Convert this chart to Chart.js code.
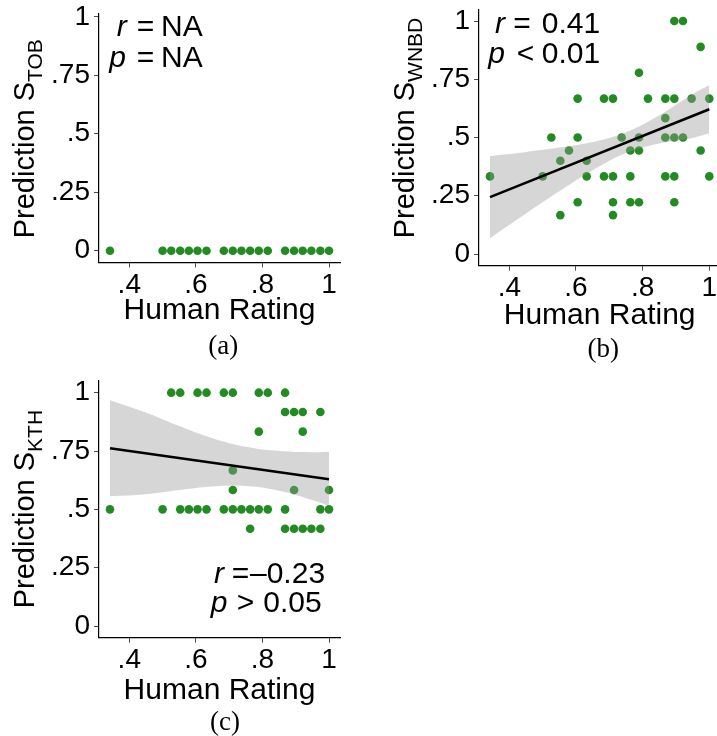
<!DOCTYPE html>
<html><head><meta charset="utf-8">
<script src="https://cdn.jsdelivr.net/npm/chart.js@4.4.1/dist/chart.umd.min.js"></script>
<style>
html,body{margin:0;padding:0;background:#fff;}
#wrap{position:relative;width:717px;height:736px;overflow:hidden;background:#fff;}
canvas{position:absolute;}
</style></head><body>
<div id="wrap">
<canvas id="cA"></canvas><canvas id="cB"></canvas><canvas id="cC"></canvas>
</div>
<script>
// ---------- data ----------
const xTickValues = [0.4, 0.6, 0.8, 1.0];
const xTickLabels = ['.4', '.6', '.8', '1'];
const yTickValues = [0, 0.25, 0.5, 0.75, 1];
const yTickLabels = ['0', '.25', '.5', '.75', '1'];
const xAxisTitle = 'Human Rating';
const yAxisTitle = 'Prediction ';

// (a) S_TOB
const tobX = [0.342, 0.500, 0.526, 0.553, 0.579, 0.605, 0.632, 0.684, 0.711, 0.737, 0.763, 0.789, 0.816, 0.868, 0.895, 0.921, 0.947, 0.974, 1.000];
const tobY = [0, 0, 0, 0, 0, 0, 0, 0, 0, 0, 0, 0, 0, 0, 0, 0, 0, 0, 0];

// (b) S_WNBD
const wnbdX = [0.895, 0.921,
  0.974,
  0.789,
  0.605, 0.684, 0.711, 0.816, 0.868, 0.895, 0.947, 1.000,
  0.868,
  0.526, 0.605, 0.737, 0.789, 0.868, 0.895, 0.921,
  0.579, 0.763, 0.789, 0.974,
  0.553, 0.632,
  0.342, 0.500, 0.632, 0.684, 0.711, 0.763, 0.868, 0.895, 1.000,
  0.605, 0.711, 0.763, 0.789, 0.895,
  0.553, 0.711];
const wnbdY = [1, 1,
  0.889,
  0.778,
  0.667, 0.667, 0.667, 0.667, 0.667, 0.667, 0.667, 0.667,
  0.583,
  0.5, 0.5, 0.5, 0.5, 0.5, 0.5, 0.5,
  0.444, 0.444, 0.444, 0.444,
  0.4, 0.4,
  0.333, 0.333, 0.333, 0.333, 0.333, 0.333, 0.333, 0.333, 0.333,
  0.222, 0.222, 0.222, 0.222, 0.222,
  0.167, 0.167];
const wnbdFitX = [0.342, 1.0];
const wnbdFitY = [0.244, 0.621];
const wnbdBandX = [0.342, 0.45, 0.55, 0.65, 0.75, 0.85, 0.95, 1.0];
const wnbdBandLow = [0.068, 0.174, 0.269, 0.359, 0.433, 0.474, 0.498, 0.518];
const wnbdBandHigh = [0.420, 0.438, 0.457, 0.481, 0.523, 0.596, 0.686, 0.724];

// (c) S_KTH
const kthX = [0.526, 0.553, 0.605, 0.632, 0.684, 0.711, 0.789, 0.816, 0.868,
  0.868, 0.895, 0.921, 0.974,
  0.789, 0.921,
  0.711,
  0.711, 0.895, 1.000,
  0.342, 0.500, 0.553, 0.579, 0.605, 0.632, 0.684, 0.711, 0.737, 0.763, 0.789, 0.816, 0.868, 0.974, 1.000,
  0.763, 0.868, 0.895, 0.921, 0.947, 0.974];
const kthY = [1, 1, 1, 1, 1, 1, 1, 1, 1,
  0.917, 0.917, 0.917, 0.917,
  0.833, 0.833,
  0.667,
  0.583, 0.583, 0.583,
  0.5, 0.5, 0.5, 0.5, 0.5, 0.5, 0.5, 0.5, 0.5, 0.5, 0.5, 0.5, 0.5, 0.5, 0.5,
  0.417, 0.417, 0.417, 0.417, 0.417, 0.417];
const kthFitX = [0.342, 1.0];
const kthFitY = [0.762, 0.629];
const kthBandX = [0.342, 0.45, 0.55, 0.65, 0.75, 0.85, 0.95, 1.0];
const kthBandLow = [0.556, 0.565, 0.583, 0.598, 0.600, 0.580, 0.540, 0.515];
const kthBandHigh = [0.968, 0.915, 0.857, 0.805, 0.768, 0.750, 0.745, 0.747];

const subLabels = ['TOB', 'WNBD', 'KTH'];
const statR = ['NA', '0.41', '\u20130.23'];
const statPop = ['=', '<', '>'];
const statP = ['NA', '0.01', '0.05'];
const captions = ['(a)', '(b)', '(c)'];

// ---------- drawing ----------
const SANS = "'Liberation Sans', Arial, sans-serif";
const SERIF = "'Liberation Serif', 'DejaVu Serif', serif";
Chart.defaults.font.family = SANS;
Chart.defaults.color = '#000';

const pts = (xs, ys) => xs.map((x, i) => ({x: x, y: ys[i]}));

const panels = [
  {id: 'cA', canvas: {left: 0, top: -20, w: 360, h: 390}, area: {left: 99, top: 14, right: 340, bottom: 262.4}, yMax: 1.012,
   xs: tobX, ys: tobY, fit: null,
   titleBase: 33.5, titleStart: 238.3, xTitleMid: 311,
   stats: {r: [116.7, 136.7, 161, 36], p: [109.3, 136.7, 161, 66.7]},
   cap: [223.3, 347]},
  {id: 'cB', canvas: {left: 380, top: -20, w: 360, h: 390}, area: {left: 479, top: 9.35, right: 720.3, bottom: 265.65}, yMax: 1.05,
   xs: wnbdX, ys: wnbdY, fit: [wnbdFitX, wnbdFitY, wnbdBandX, wnbdBandLow, wnbdBandHigh],
   titleBase: 413.5, titleStart: 238.3, xTitleMid: 316,
   stats: {r: [495, 513.3, 541.7, 33.3], p: [488.3, 516.7, 541.7, 63.3]},
   cap: [603.3, 350]},
  {id: 'cC', canvas: {left: 0, top: 350, w: 360, h: 386}, area: {left: 99, top: 381, right: 340, bottom: 637.7}, yMax: 1.05,
   xs: kthX, ys: kthY, fit: [kthFitX, kthFitY, kthBandX, kthBandLow, kthBandHigh],
   titleBase: 33.5, titleStart: 608.3, xTitleMid: 691,
   stats: {r: [214, 231.7, 250, 583.3], p: [210.7, 236.7, 263.3, 611.7]},
   cap: [225, 723]}
];

panels.forEach((P, k) => {
  const cv = document.getElementById(P.id);
  cv.width = P.canvas.w; cv.height = P.canvas.h;
  cv.style.left = P.canvas.left + 'px'; cv.style.top = P.canvas.top + 'px';
  cv.style.width = P.canvas.w + 'px'; cv.style.height = P.canvas.h + 'px';
  const cl = P.canvas.left, ct = P.canvas.top;
  const datasets = [{
    type: 'scatter', data: pts(P.xs, P.ys), pointRadius: 4.3, pointHoverRadius: 4.3,
    backgroundColor: '#228B22', borderWidth: 0, order: 3
  }];
  if (P.fit) {
    const [fx, fy, bx, bl, bh] = P.fit;
    datasets.push({type: 'line', data: pts(bx, bl), pointRadius: 0, borderWidth: 0, fill: false,
      tension: 0.4, order: 2, borderColor: 'rgba(0,0,0,0)'});
    datasets.push({type: 'line', data: pts(bx, bh), pointRadius: 0, borderWidth: 0, fill: '-1',
      backgroundColor: 'rgba(153,153,153,0.4)', tension: 0.4, order: 2, borderColor: 'rgba(0,0,0,0)'});
    datasets.push({type: 'line', data: pts(fx, fy), pointRadius: 0, borderWidth: 2.6, borderColor: '#000', fill: false, order: 1});
  }
  const xTitleLH = 30 * 1.2;
  const xPadBottom = (ct + P.canvas.h) - P.xTitleMid - xTitleLH / 2;
  const annot = {
    id: 'annot' + k,
    afterDraw(chart) {
      const ctx = chart.ctx;
      ctx.save();
      ctx.fillStyle = '#000';
      // y title with subscript
      ctx.save();
      ctx.translate(P.titleBase - cl, P.titleStart - ct);
      ctx.rotate(-Math.PI / 2);
      ctx.textAlign = 'left'; ctx.textBaseline = 'alphabetic';
      ctx.font = '29px ' + SANS;
      const full = yAxisTitle + 'S';
      ctx.fillText(full, 0, 0);
      const w = ctx.measureText(full).width;
      ctx.font = '21px ' + SANS;
      ctx.fillText(subLabels[k], w, 8.4);
      ctx.restore();
      // stats
      ctx.textAlign = 'left'; ctx.textBaseline = 'alphabetic';
      const s = P.stats;
      ctx.font = 'italic 30px ' + SANS;
      ctx.fillText('r', s.r[0] - cl, s.r[3] - ct);
      ctx.fillText('p', s.p[0] - cl, s.p[3] - ct);
      ctx.font = '30px ' + SANS;
      ctx.fillText('=', s.r[1] - cl, s.r[3] - ct);
      ctx.fillText(statR[k], s.r[2] - cl, s.r[3] - ct);
      ctx.fillText(statPop[k], s.p[1] - cl, s.p[3] - ct);
      ctx.fillText(statP[k], s.p[2] - cl, s.p[3] - ct);
      // caption
      ctx.font = '27px ' + SERIF;
      ctx.textAlign = 'center'; ctx.textBaseline = 'middle';
      ctx.fillText(captions[k], P.cap[0] - cl, P.cap[1] - ct);
      ctx.restore();
    }
  };
  new Chart(cv, {
    type: 'scatter',
    data: {datasets: datasets},
    options: {
      responsive: false, animation: false, devicePixelRatio: 1,
      layout: {padding: {left: 0, top: P.area.top - ct, right: P.canvas.w - (P.area.right - cl), bottom: 0}},
      plugins: {legend: {display: false}, tooltip: {enabled: false}},
      scales: {
        x: {
          type: 'linear', min: 0.309, max: 1.033,
          afterBuildTicks: (s) => { s.ticks = xTickValues.map(v => ({value: v})); },
          afterFit: (s) => { s.height = (ct + P.canvas.h) - P.area.bottom; },
          ticks: {callback: (v) => xTickLabels[xTickValues.indexOf(v)], font: {size: 28}, padding: 1, color: '#000', maxRotation: 0, autoSkip: false},
          grid: {drawOnChartArea: false, drawTicks: true, tickLength: 5, color: '#4d4d4d', lineWidth: 1},
          border: {display: true, color: '#000', width: 1.2},
          title: {display: true, text: xAxisTitle, font: {size: 30}, color: '#000', padding: {top: 0, bottom: xPadBottom}}
        },
        y: {
          type: 'linear', min: -0.05, max: P.yMax,
          afterBuildTicks: (s) => { s.ticks = yTickValues.map(v => ({value: v})); },
          afterFit: (s) => { s.width = P.area.left - cl; },
          ticks: {callback: (v) => yTickLabels[yTickValues.indexOf(v)], font: {size: 28}, padding: 4, color: '#000', autoSkip: false},
          grid: {drawOnChartArea: false, drawTicks: true, tickLength: 5, color: '#4d4d4d', lineWidth: 1},
          border: {display: true, color: '#000', width: 1.2}
        }
      }
    },
    plugins: [annot]
  });
});
</script>
</body></html>
